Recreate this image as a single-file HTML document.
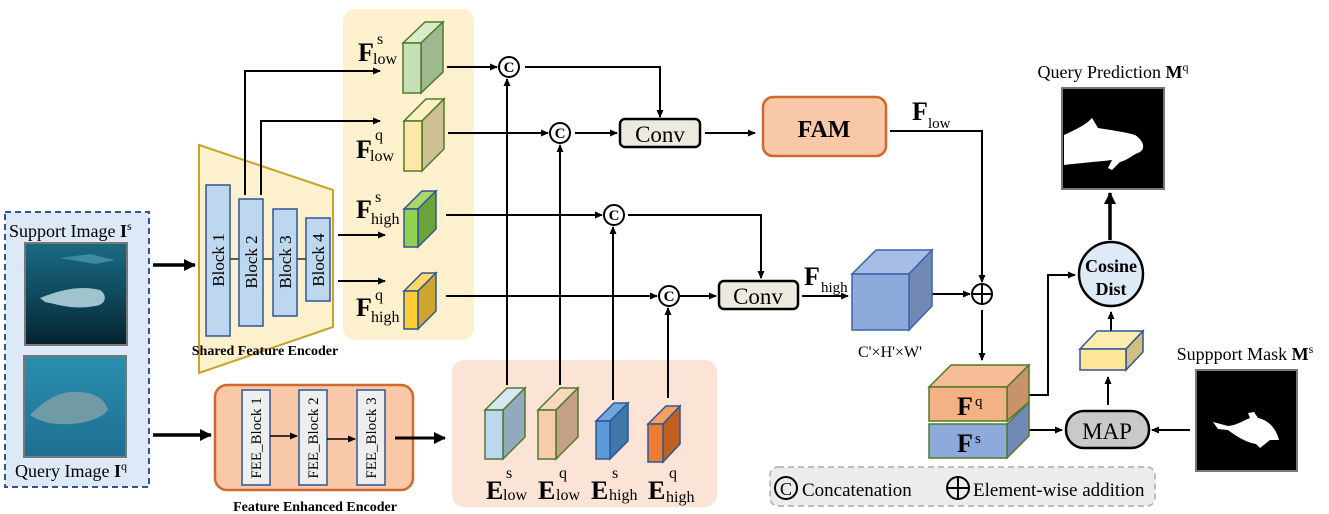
<!DOCTYPE html>
<html><head><meta charset="utf-8"><style>
html,body{margin:0;padding:0;background:#fff}
svg{display:block}
text{font-family:"Liberation Serif",serif}
</style></head><body>
<svg width="1329" height="514" viewBox="0 0 1329 514" xmlns="http://www.w3.org/2000/svg">
<defs>
<marker id="a" markerWidth="8" markerHeight="8" refX="7" refY="4" orient="auto" markerUnits="userSpaceOnUse"><path d="M0,0.5 L8,4 L0,7.5 z" fill="#000"/></marker>
<marker id="b" markerWidth="12" markerHeight="12" refX="11" refY="6" orient="auto" markerUnits="userSpaceOnUse"><path d="M0,0 L12,6 L0,12 z" fill="#000"/></marker>
<linearGradient id="sea1" x1="0" y1="0" x2="0" y2="1"><stop offset="0" stop-color="#1b6a82"/><stop offset="0.5" stop-color="#0f4a5e"/><stop offset="1" stop-color="#06222e"/></linearGradient>
<linearGradient id="sea2" x1="0" y1="0" x2="0" y2="1"><stop offset="0" stop-color="#2a8fb0"/><stop offset="1" stop-color="#1d6f90"/></linearGradient>
</defs>

<rect x="343" y="9" width="131" height="331" rx="12" fill="#fdf0cc"/>
<rect x="452" y="360" width="265" height="147" rx="12" fill="#fbe3d6"/>
<rect x="770" y="467" width="385" height="39" rx="8" fill="#ececec" stroke="#aaa" stroke-width="1.5" stroke-dasharray="6,4"/>

<rect x="5" y="212" width="144" height="275" fill="#dde9f6" stroke="#2f5597" stroke-width="2" stroke-dasharray="6,4"/>
<text x="9" y="237" font-size="18">Support Image <tspan font-weight="bold">I</tspan><tspan font-size="12" dy="-7">s</tspan></text>
<rect x="25" y="243" width="102" height="102" fill="url(#sea1)" stroke="#777" stroke-width="2"/>
<path d="M40,298 C60,290 80,285 100,290 C108,295 106,305 95,306 C75,310 60,305 45,302 Z" fill="#9fc4cc"/>
<path d="M60,258 l30,-4 l25,6 l-20,4 z" fill="#4d9db0" opacity="0.7"/>
<rect x="24" y="356" width="102" height="101" fill="url(#sea2)" stroke="#777" stroke-width="2"/>
<path d="M30,415 C45,400 60,390 80,392 C98,393 106,402 108,410 C100,420 80,425 60,424 C48,424 38,420 30,415 Z" fill="#6f9aa6"/>
<text x="15" y="477" font-size="18">Query Image <tspan font-weight="bold">I</tspan><tspan font-size="12" dy="-7">q</tspan></text>

<line x1="153" y1="265" x2="195" y2="265" stroke="#000" stroke-width="3.5" marker-end="url(#b)"/>
<line x1="153" y1="435" x2="211" y2="435" stroke="#000" stroke-width="3.5" marker-end="url(#b)"/>

<polygon points="199,145 333,190 333,327 199,373" fill="#fdf0cc" stroke="#c9a227" stroke-width="2"/>
<line x1="230" y1="259" x2="306" y2="259" stroke="#000" stroke-width="1.2"/>
<g fill="#bdd7ee" stroke="#2f5597" stroke-width="1.5">
<rect x="206" y="185" width="24" height="151"/>
<rect x="239" y="199" width="24" height="127"/>
<rect x="273" y="209" width="24" height="107"/>
<rect x="306" y="218" width="24" height="83"/>
</g>
<g font-size="17" text-anchor="middle">
<text transform="translate(224,260) rotate(-90)">Block 1</text>
<text transform="translate(257,262) rotate(-90)">Block 2</text>
<text transform="translate(291,262) rotate(-90)">Block 3</text>
<text transform="translate(324,260) rotate(-90)">Block 4</text>
</g>
<text x="265" y="355" font-size="14" font-weight="bold" text-anchor="middle">Shared Feature Encoder</text>

<g stroke="#000" stroke-width="2" fill="none">
<polyline points="245,195 245,71 380,71" marker-end="url(#a)"/>
<polyline points="261,195 261,121 380,121" marker-end="url(#a)"/>
<line x1="338" y1="235" x2="385" y2="235" marker-end="url(#a)"/>
<line x1="338" y1="281" x2="385" y2="281" marker-end="url(#a)"/>
</g>

<g stroke="#4e7a2c" stroke-width="1.5">
<polygon points="403,43 425,22 443,22 421,43" fill="#d7ebc8"/><polygon points="421,43 443,22 443,72 421,93" fill="#9fb98e"/><rect x="403" y="43" width="18" height="50" fill="#c5e0b4"/>
<polygon points="404,121 426,99 444,99 422,121" fill="#fff0c4"/><polygon points="422,121 444,99 444,149 422,171" fill="#cfc093"/><rect x="404" y="121" width="18" height="50" fill="#ffe8a8"/>
</g>
<g stroke="#2f5597" stroke-width="1.5">
<polygon points="404,209 422,191 436,191 418,209" fill="#a8d86a"/><polygon points="418,209 436,191 436,229 418,247" fill="#6da43a"/><rect x="404" y="209" width="14" height="38" fill="#92d050"/>
<polygon points="404,291 422,273 436,273 418,291" fill="#ffd966"/><polygon points="418,291 436,273 436,311 418,329" fill="#cfa52e"/><rect x="404" y="291" width="14" height="38" fill="#ffcc33"/>
</g>
<g font-size="16">
<text x="358" y="61" font-size="26" font-weight="bold">F</text><text x="377" y="44">s</text><text x="373" y="64">low</text>
<text x="356" y="158" font-size="26" font-weight="bold">F</text><text x="375" y="140">q</text><text x="370" y="161">low</text>
<text x="356" y="218" font-size="26" font-weight="bold">F</text><text x="375" y="202">s</text><text x="371" y="224">high</text>
<text x="356" y="316" font-size="26" font-weight="bold">F</text><text x="375" y="300">q</text><text x="371" y="322">high</text>
</g>

<rect x="215" y="385" width="198" height="105" rx="12" fill="#f8c8a8" stroke="#d0692f" stroke-width="2.5"/>
<g fill="#eee" stroke="#2f5597" stroke-width="1.5">
<rect x="242" y="390" width="28" height="95"/><rect x="299" y="390" width="28" height="95"/><rect x="357" y="390" width="28" height="95"/>
</g>
<g stroke="#000" stroke-width="1.5"><line x1="270" y1="436" x2="297" y2="436" marker-end="url(#a)"/><line x1="327" y1="439" x2="355" y2="439" marker-end="url(#a)"/></g>
<g font-size="15" text-anchor="middle">
<text transform="translate(261,438) rotate(-90)">FEE_Block 1</text>
<text transform="translate(318,438) rotate(-90)">FEE_Block 2</text>
<text transform="translate(376,438) rotate(-90)">FEE_Block 3</text>
</g>
<line x1="395" y1="438" x2="445" y2="438" stroke="#000" stroke-width="3" marker-end="url(#b)"/>
<text x="315" y="511" font-size="14" font-weight="bold" text-anchor="middle">Feature Enhanced Encoder</text>

<g stroke="#4e7a2c" stroke-width="1.5">
<polygon points="485,410 507,388 525,388 503,410" fill="#d6e8f5"/><polygon points="503,410 525,388 525,437 503,459" fill="#93a9bd"/><rect x="485" y="410" width="18" height="49" fill="#bdd7ee"/>
<polygon points="538,410 560,388 578,388 556,410" fill="#fbd9c0"/><polygon points="556,410 578,388 578,437 556,459" fill="#c4a086"/><rect x="538" y="410" width="18" height="49" fill="#f8cbad"/>
</g>
<g stroke="#2f5597" stroke-width="1.5">
<polygon points="596,421 614,403 628,403 610,421" fill="#6fa8dc"/><polygon points="610,421 628,403 628,441 610,459" fill="#3f77a8"/><rect x="596" y="421" width="14" height="38" fill="#5b9bd5"/>
<polygon points="648,424 666,406 680,406 663,424" fill="#f4a060"/><polygon points="663,424 680,406 680,444 663,462" fill="#bf6020"/><rect x="648" y="424" width="15" height="38" fill="#ed7d31"/>
</g>
<g font-size="16">
<text x="486" y="499" font-size="26" font-weight="bold">E</text><text x="506" y="478">s</text><text x="503" y="500">low</text>
<text x="538" y="499" font-size="26" font-weight="bold">E</text><text x="559" y="478">q</text><text x="556" y="500">low</text>
<text x="591" y="499" font-size="26" font-weight="bold">E</text><text x="612" y="478">s</text><text x="609" y="500">high</text>
<text x="648" y="499" font-size="26" font-weight="bold">E</text><text x="669" y="478">q</text><text x="666" y="502">high</text>
</g>

<g stroke="#000" stroke-width="2" fill="none">
<line x1="447" y1="67" x2="497" y2="67" marker-end="url(#a)"/>
<line x1="448" y1="133" x2="548" y2="133" marker-end="url(#a)"/>
<line x1="446" y1="215" x2="602" y2="215" marker-end="url(#a)"/>
<line x1="446" y1="296" x2="657" y2="296" marker-end="url(#a)"/>
<line x1="507" y1="385" x2="507" y2="79" marker-end="url(#a)"/>
<line x1="560" y1="385" x2="560" y2="145" marker-end="url(#a)"/>
<line x1="613" y1="400" x2="613" y2="227" marker-end="url(#a)"/>
<line x1="668" y1="398" x2="668" y2="308" marker-end="url(#a)"/>
<polyline points="525,67 660,67 660,117" marker-end="url(#a)"/>
<line x1="575" y1="133" x2="617" y2="133" marker-end="url(#a)"/>
<line x1="705" y1="133" x2="755" y2="133" marker-end="url(#a)"/>
<polyline points="628,215 761,215 761,278" marker-end="url(#a)"/>
<line x1="680" y1="296" x2="716" y2="296" marker-end="url(#a)"/>
<line x1="802" y1="296" x2="848" y2="296" marker-end="url(#a)"/>
<polyline points="890,131 982,131 982,282" marker-end="url(#a)"/>
<line x1="921" y1="294" x2="970" y2="294" marker-end="url(#a)"/>
<line x1="982" y1="310" x2="982" y2="360" marker-end="url(#a)"/>
<polyline points="1017,395 1048,395 1048,275 1075,275" marker-end="url(#a)"/>
<line x1="1017" y1="430" x2="1062" y2="430" marker-end="url(#a)"/>
<line x1="1190" y1="430" x2="1152" y2="430" marker-end="url(#a)"/>
<line x1="1108" y1="405" x2="1108" y2="377" marker-end="url(#a)"/>
<line x1="1111" y1="345" x2="1111" y2="312" marker-end="url(#a)"/>
</g>
<line x1="1110" y1="240" x2="1110" y2="193" stroke="#000" stroke-width="3.5" marker-end="url(#b)"/>

<g fill="#fff" stroke="#000" stroke-width="2">
<circle cx="509" cy="67" r="10"/><circle cx="560" cy="133" r="10"/><circle cx="614" cy="215" r="10"/><circle cx="669" cy="296" r="10"/>
</g>
<g font-size="15" font-weight="bold" text-anchor="middle">
<text x="509" y="72">C</text><text x="560" y="138">C</text><text x="614" y="220">C</text><text x="669" y="301">C</text>
</g>

<rect x="620" y="119" width="80" height="28" rx="5" fill="#eceadf" stroke="#000" stroke-width="2.5"/>
<text x="660" y="142" font-size="23" text-anchor="middle">Conv</text>
<rect x="719" y="281" width="79" height="28" rx="5" fill="#eceadf" stroke="#000" stroke-width="2.5"/>
<text x="758" y="304" font-size="23" text-anchor="middle">Conv</text>
<rect x="763" y="97" width="123" height="59" rx="10" fill="#f8c8a8" stroke="#d0692f" stroke-width="2.5"/>
<text x="824" y="137" font-size="24" font-weight="bold" text-anchor="middle">FAM</text>
<text x="912" y="120" font-size="26" font-weight="bold">F</text><text x="928" y="128" font-size="15">low</text>
<text x="804" y="285" font-size="26" font-weight="bold">F</text><text x="821" y="292" font-size="15">high</text>

<g stroke="#3a64a8" stroke-width="1.5">
<polygon points="852,274 876,250 932,250 909,274" fill="#a6bde6"/>
<polygon points="909,274 932,250 932,306 909,330" fill="#7389b5"/>
<rect x="852" y="274" width="57" height="56" fill="#8eaadb"/>
</g>
<text x="890" y="357" font-size="16" text-anchor="middle">C'×H'×W'</text>

<circle cx="982" cy="294" r="10" fill="#fff" stroke="#000" stroke-width="2"/>
<path d="M972,294 H992 M982,284 V304" stroke="#000" stroke-width="2"/>

<g stroke="#4e7a2c" stroke-width="1.5">
<polygon points="929,387 951,365 1029,365 1007,387" fill="#f6bd96"/>
<polygon points="1007,387 1029,365 1029,402 1007,421" fill="#c8926b"/>
<rect x="929" y="387" width="78" height="34" fill="#f4b183"/>
<polygon points="1007,424 1029,402 1029,436 1007,458" fill="#7389b5"/>
<rect x="929" y="424" width="78" height="34" fill="#8eaadb"/>
</g>
<text x="957" y="415" font-size="26" font-weight="bold">F</text><text x="975" y="406" font-size="15">q</text>
<text x="957" y="452" font-size="26" font-weight="bold">F</text><text x="975" y="443" font-size="15">s</text>

<g stroke="#2f5597" stroke-width="1.5">
<polygon points="1080,349 1097,331 1143,331 1126,349" fill="#ffecb0"/>
<polygon points="1126,349 1143,331 1143,352 1126,370" fill="#d2bd82"/>
<rect x="1080" y="349" width="46" height="21" fill="#ffe699"/>
</g>

<rect x="1066" y="411" width="83" height="37" rx="18" fill="#c9c9c9" stroke="#000" stroke-width="2.5"/>
<text x="1107" y="439" font-size="23" text-anchor="middle">MAP</text>

<circle cx="1111" cy="274" r="32" fill="#deebf7" stroke="#000" stroke-width="2.5"/>
<text x="1111" y="272" font-size="18" font-weight="bold" text-anchor="middle">Cosine</text>
<text x="1111" y="295" font-size="18" font-weight="bold" text-anchor="middle">Dist</text>

<text x="1113" y="78" font-size="18" text-anchor="middle">Query Prediction <tspan font-weight="bold">M</tspan><tspan font-size="12" dy="-7">q</tspan></text>
<rect x="1062" y="88" width="102" height="101" fill="#000" stroke="#777" stroke-width="2"/>
<path d="M1064,135 C1075,130 1085,125 1090,120 L1092,118 L1098,128 C1110,130 1125,132 1135,135 C1143,140 1146,148 1140,152 C1132,155 1128,160 1120,162 L1112,170 L1108,168 L1112,160 C1095,162 1080,163 1064,165 Z" fill="#fff"/>

<text x="1245" y="360" font-size="18" text-anchor="middle">Suppport Mask <tspan font-weight="bold">M</tspan><tspan font-size="12" dy="-7">s</tspan></text>
<rect x="1196" y="370" width="101" height="101" fill="#000" stroke="#777" stroke-width="2"/>
<path d="M1213,422 L1228,426 C1238,425 1244,420 1250,418 L1248,413 L1254,412 L1258,418 C1268,420 1276,428 1279,440 L1270,440 L1260,448 L1256,444 C1245,442 1236,436 1228,430 L1218,429 Z" fill="#fff"/>

<circle cx="786" cy="488" r="11" fill="none" stroke="#000" stroke-width="2"/>
<text x="786" y="495" font-size="18" text-anchor="middle">C</text>
<text x="802" y="496" font-size="19">Concatenation</text>
<circle cx="958" cy="488" r="11" fill="none" stroke="#000" stroke-width="2"/>
<path d="M947,488 H969 M958,477 V499" stroke="#000" stroke-width="2"/>
<text x="973" y="496" font-size="19">Element-wise addition</text>
</svg>
</body></html>
